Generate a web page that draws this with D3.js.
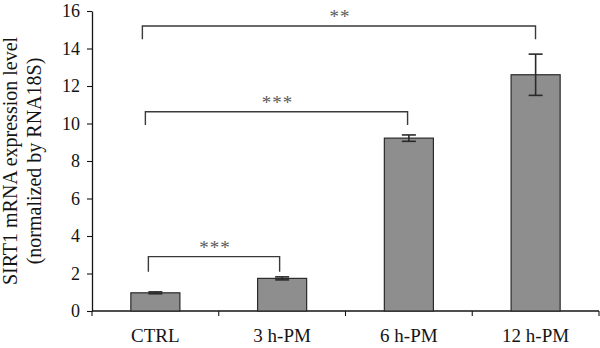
<!DOCTYPE html>
<html>
<head>
<meta charset="utf-8">
<script src="https://cdn.jsdelivr.net/npm/d3@7"></script>
<style>
  html, body { margin: 0; padding: 0; background: #fff; }
  svg { display: block; }
  text { font-family: "Liberation Serif", "Times New Roman", serif; }
</style>
</head>
<body>
<svg id="chart" width="600" height="348"></svg>
<script>
// SIRT1 mRNA expression after PM exposure
const categories = ["CTRL", "3 h-PM", "6 h-PM", "12 h-PM"];
const means = [0.97, 1.74, 9.22, 12.6];
const errors = [0.05, 0.08, 0.17, 1.1];
const yTicks = [0, 2, 4, 6, 8, 10, 12, 14, 16];

// significance brackets: from / to category, bracket height, leg bottom, label
const bracketFrom = ["CTRL", "CTRL", "CTRL"];
const bracketTo = ["3 h-PM", "6 h-PM", "12 h-PM"];
const bracketLevel = [2.9, 10.63, 15.2];
const bracketLeg = [2.1, 9.92, 14.5];
const bracketLabel = ["***", "***", "**"];

const svg = d3.select("#chart");
const plotLeft = 92, plotRight = 599, plotTop = 11, plotBottom = 311;
const serif = "'Liberation Serif', 'Times New Roman', serif";

const y = d3.scaleLinear().domain([0, 16]).range([plotBottom, plotTop]);
const x = d3.scaleBand().domain(categories).range([plotLeft, plotRight])
  .paddingInner(0.613).paddingOuter(0.3065);

const ink = "#141414";

// y axis
const yAxis = svg.append("g")
  .attr("transform", `translate(${plotLeft},0)`)
  .call(d3.axisLeft(y).tickValues(yTicks).tickSize(5).tickSizeOuter(0).tickPadding(7));
yAxis.attr("font-family", serif).attr("font-size", 18);
yAxis.select(".domain").attr("stroke", ink).attr("stroke-width", 1.3);
yAxis.selectAll(".tick line").attr("stroke", ink).attr("stroke-width", 1.1);
yAxis.selectAll(".tick text")
  .attr("fill", ink)
  .style("font-family", serif)
  .style("font-size", "18px");

// x axis: baseline with ticks at category boundaries
const step = x.step();
const boundaries = d3.range(categories.length + 1).map(i => plotLeft + i * step);
svg.append("line")
  .attr("x1", plotLeft).attr("x2", plotRight)
  .attr("y1", y(0)).attr("y2", y(0))
  .attr("stroke", ink).attr("stroke-width", 1.3);
svg.selectAll(".xtick").data(boundaries).join("line")
  .attr("class", "xtick")
  .attr("x1", d => d).attr("x2", d => d)
  .attr("y1", y(0)).attr("y2", y(0) + 5)
  .attr("stroke", ink).attr("stroke-width", 1.1);
svg.selectAll(".xlabel").data(categories).join("text")
  .attr("class", "xlabel")
  .attr("x", d => x(d) + x.bandwidth() / 2)
  .attr("y", 342)
  .attr("text-anchor", "middle")
  .attr("fill", ink)
  .style("font-size", "19px")
  .text(d => d);

// bars
svg.selectAll(".bar").data(categories).join("rect")
  .attr("class", "bar")
  .attr("x", d => x(d))
  .attr("width", x.bandwidth())
  .attr("y", (d, i) => y(means[i]))
  .attr("height", (d, i) => y(0) - y(means[i]))
  .attr("fill", "#8e8e8e")
  .attr("stroke", "#2a2a2a")
  .attr("stroke-width", 1.2);

// error bars
const cap = 7;
const eb = svg.selectAll(".err").data(categories).join("g").attr("class", "err")
  .attr("stroke", "#2a2a2a").attr("stroke-width", 1.6);
eb.append("line")
  .attr("x1", d => x(d) + x.bandwidth() / 2).attr("x2", d => x(d) + x.bandwidth() / 2)
  .attr("y1", (d, i) => y(means[i] + errors[i])).attr("y2", (d, i) => y(means[i] - errors[i]));
eb.append("line")
  .attr("x1", d => x(d) + x.bandwidth() / 2 - cap).attr("x2", d => x(d) + x.bandwidth() / 2 + cap)
  .attr("y1", (d, i) => y(means[i] + errors[i])).attr("y2", (d, i) => y(means[i] + errors[i]));
eb.append("line")
  .attr("x1", d => x(d) + x.bandwidth() / 2 - cap).attr("x2", d => x(d) + x.bandwidth() / 2 + cap)
  .attr("y1", (d, i) => y(means[i] - errors[i])).attr("y2", (d, i) => y(means[i] - errors[i]));

// significance brackets
const center = c => x(c) + x.bandwidth() / 2;
bracketLabel.forEach((lab, i) => {
  const x1 = center(bracketFrom[i]) - 7 - 3 * i;
  const x2 = center(bracketTo[i]) - 2.5 + 1.2 * i;
  const yl = y(bracketLevel[i]);
  const yb = y(bracketLeg[i]);
  svg.append("path")
    .attr("d", `M${x1},${yb}V${yl}H${x2}V${yb}`)
    .attr("fill", "none")
    .attr("stroke", "#3a3a3a")
    .attr("stroke-width", 1.4);
  svg.append("text")
    .attr("x", (x1 + x2) / 2 + 1)
    .attr("y", yl - 3)
    .attr("text-anchor", "middle")
    .attr("fill", "#5a5a5a")
    .style("font-size", "19px")
    .style("letter-spacing", "1px")
    .text(lab);
});

// y axis title
const yTitle = svg.append("text")
  .attr("transform", "translate(0,161) rotate(-90)")
  .attr("text-anchor", "middle")
  .attr("fill", ink)
  .style("font-size", "20px");
yTitle.append("tspan").attr("x", 0).attr("y", 17).text("SIRT1 mRNA expression level");
yTitle.append("tspan").attr("x", 0).attr("y", 41).text("(normalized by RNA18S)");
</script>
</body>
</html>
